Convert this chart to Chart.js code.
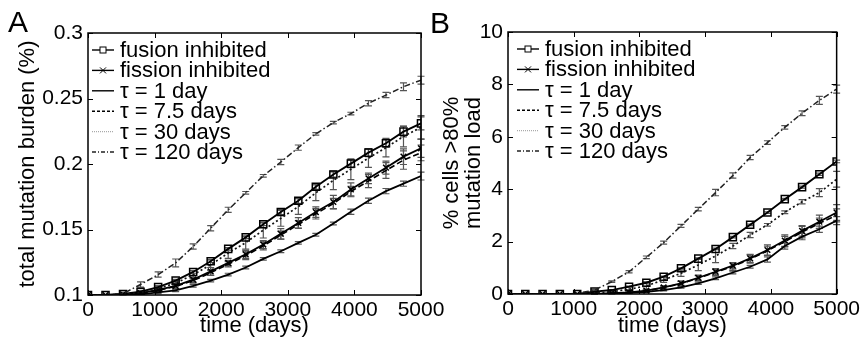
<!DOCTYPE html>
<html lang="en">
<head>
    <meta charset="UTF-8">
    <title>Mutation burden over time</title>
    <script src="https://cdn.jsdelivr.net/npm/chart.js"></script>
    <style>
        body {
            margin: 0;
            background: #fff;
            font-family: 'Liberation Sans', Arial, sans-serif;
        }
        .panel { position: absolute; top: 0; height: 344px; }
        #wrapA { left: 0; width: 452px; }
        #wrapB { left: 428px; width: 435px; }
        .letter {
            position: absolute;
            font-size: 30px;
            line-height: 1;
            color: #000;
        }
    </style>
</head>
<body>
    <div class="panel" id="wrapA"><canvas id="chartA" width="452" height="344"></canvas></div>
    <div class="panel" id="wrapB"><canvas id="chartB" width="435" height="344"></canvas></div>
    <div class="letter" style="left:8px;top:7px">A</div>
    <div class="letter" style="left:430px;top:8px">B</div>

    <script>
        // sample times (days)
        const days = [0, 263, 526, 789, 1053, 1316, 1579, 1842, 2105, 2368, 2632, 2895, 3158, 3421, 3684, 3947, 4211, 4474, 4737, 5000];

        // panel A: total mutation burden (%)
        const burdenFusion  = [0.1, 0.1, 0.1008, 0.1025, 0.106, 0.111, 0.1176, 0.1258, 0.1352, 0.144, 0.154, 0.1633, 0.172, 0.1827, 0.192, 0.2003, 0.2087, 0.2158, 0.2247, 0.231];
        const burdenFission = [0.1, 0.1, 0.1005, 0.1015, 0.104, 0.107, 0.1117, 0.118, 0.1245, 0.131, 0.1385, 0.1467, 0.155, 0.1633, 0.171, 0.1806, 0.189, 0.1972, 0.2056, 0.212];
        const burdenTau1    = [0.1, 0.1, 0.1, 0.1005, 0.102, 0.1036, 0.107, 0.111, 0.1156, 0.121, 0.1276, 0.1334, 0.1398, 0.146, 0.1546, 0.1635, 0.172, 0.1793, 0.185, 0.1908];
        const burdenTau7    = [0.1, 0.1, 0.1005, 0.1015, 0.1035, 0.1065, 0.111, 0.117, 0.1235, 0.13, 0.1375, 0.1457, 0.1538, 0.162, 0.1698, 0.179, 0.187, 0.195, 0.203, 0.2085];
        const burdenTau30   = [0.1, 0.1, 0.1005, 0.102, 0.105, 0.109, 0.1155, 0.123, 0.132, 0.14, 0.1495, 0.1585, 0.1675, 0.178, 0.1875, 0.196, 0.2045, 0.2125, 0.221, 0.228];
        const burdenTau120  = [0.1, 0.1, 0.101, 0.108, 0.1156, 0.1245, 0.137, 0.151, 0.165, 0.178, 0.191, 0.2015, 0.2125, 0.223, 0.2316, 0.2385, 0.2464, 0.2526, 0.259, 0.264];

        const errBurdenFusion  = [0, 0, 0, 0.001, 0.001, 0.001, 0.001, 0.001, 0.001, 0.001, 0.001, 0.002, 0.002, 0.002, 0.002, 0.003, 0.003, 0.003, 0.004, 0.005];
        const errBurdenFission = [0, 0, 0, 0.001, 0.001, 0.002, 0.002, 0.003, 0.002, 0.003, 0.003, 0.004, 0.004, 0.004, 0.005, 0.005, 0.004, 0.005, 0.006, 0.007];
        const errBurdenTau1    = [0, 0, 0, 0, 0.001, 0.001, 0.001, 0.001, 0.001, 0.001, 0.001, 0.001, 0.001, 0.001, 0.001, 0.002, 0.002, 0.002, 0.002, 0.003];
        const errBurdenTau7    = [0, 0, 0, 0.001, 0.001, 0.002, 0.002, 0.002, 0.002, 0.003, 0.003, 0.003, 0.003, 0.004, 0.004, 0.004, 0.005, 0.006, 0.007, 0.006];
        const errBurdenTau30   = [0, 0, 0, 0.001, 0.002, 0.002, 0.003, 0.004, 0.004, 0.005, 0.006, 0.006, 0.006, 0.006, 0.007, 0.008, 0.007, 0.007, 0.008, 0.009];
        const errBurdenTau120  = [0, 0, 0.001, 0.002, 0.002, 0.003, 0.002, 0.002, 0.002, 0.001, 0.001, 0.002, 0.002, 0.001, 0.001, 0.001, 0.002, 0.002, 0.003, 0.003];

        // panel B: % cells with >80% mutation load
        const loadFusion  = [0, 0, 0, 0, 0, 0.09, 0.15, 0.28, 0.43, 0.66, 0.98, 1.35, 1.72, 2.17, 2.64, 3.11, 3.62, 4.08, 4.57, 5.06];
        const loadFission = [0, 0, 0, 0, 0, 0, 0.03, 0.06, 0.13, 0.25, 0.41, 0.62, 0.85, 1.08, 1.36, 1.68, 2.04, 2.41, 2.76, 3.11];
        const loadTau1    = [0, 0, 0, 0, 0, 0, 0, 0.04, 0.08, 0.15, 0.25, 0.41, 0.6, 0.82, 1.04, 1.32, 1.83, 2.19, 2.47, 2.8];
        const loadTau7    = [0, 0, 0, 0, 0, 0, 0.02, 0.05, 0.12, 0.24, 0.4, 0.6, 0.83, 1.05, 1.33, 1.65, 2.0, 2.36, 2.7, 3.0];
        const loadTau30   = [0, 0, 0, 0, 0, 0.03, 0.09, 0.18, 0.31, 0.54, 0.79, 1.11, 1.45, 1.83, 2.25, 2.64, 3.12, 3.52, 3.87, 4.38];
        const loadTau120  = [0, 0, 0, 0, 0.02, 0.15, 0.47, 0.85, 1.4, 1.96, 2.6, 3.24, 3.87, 4.52, 5.21, 5.78, 6.36, 6.9, 7.39, 7.82];

        const errLoadFusion  = [0, 0, 0, 0, 0, 0.01, 0.01, 0.02, 0.02, 0.02, 0.02, 0.03, 0.03, 0.03, 0.03, 0.03, 0.03, 0.04, 0.04, 0.05];
        const errLoadFission = [0, 0, 0, 0, 0, 0.01, 0.02, 0.03, 0.05, 0.06, 0.08, 0.1, 0.12, 0.12, 0.15, 0.2, 0.22, 0.2, 0.25, 0.3];
        const errLoadTau1    = [0, 0, 0, 0, 0, 0, 0, 0.01, 0.02, 0.03, 0.03, 0.04, 0.05, 0.05, 0.05, 0.1, 0.12, 0.12, 0.12, 0.15];
        const errLoadTau7    = [0, 0, 0, 0, 0, 0.01, 0.02, 0.03, 0.05, 0.06, 0.08, 0.1, 0.12, 0.15, 0.15, 0.18, 0.2, 0.22, 0.2, 0.25];
        const errLoadTau30   = [0, 0, 0, 0, 0, 0.02, 0.05, 0.1, 0.15, 0.1, 0.12, 0.22, 0.25, 0.1, 0.1, 0.05, 0.05, 0.08, 0.15, 0.3];
        const errLoadTau120  = [0, 0, 0, 0, 0, 0.02, 0.03, 0.04, 0.05, 0.06, 0.06, 0.07, 0.12, 0.1, 0.08, 0.07, 0.07, 0.09, 0.15, 0.15];

        const seriesLabels = ['fusion inhibited', 'fission inhibited', 'τ = 1 day', 'τ = 7.5 days', 'τ = 30 days', 'τ = 120 days'];

        // line look per series (plot style, legend style)
        const styles = [
            { dash: [], color: '#000', width: 1.9, point: 'rect', radius: 5, legendDash: [], legendColor: '#000' },
            { dash: [], color: '#000', width: 1.8, point: 'crossRot', radius: 4, legendDash: [], legendColor: '#000' },
            { dash: [], color: '#000', width: 1.8, point: false, radius: 0, legendDash: [], legendColor: '#000' },
            { dash: [6, 3], color: '#000', width: 1.6, point: false, radius: 0, legendDash: [3, 2], legendColor: '#000' },
            { dash: [2, 2.5], color: '#111', width: 1.7, point: false, radius: 0, legendDash: [1, 1], legendColor: '#aaa' },
            { dash: [6, 2.5, 1.5, 2.5], color: '#222', width: 1.5, point: false, radius: 0, legendDash: [4, 2, 1, 2], legendColor: '#222' }
        ];

        function makeDatasets(values, errors) {
            return values.map((vals, i) => ({
                label: seriesLabels[i],
                data: vals.map((v, k) => ({ x: days[k], y: v })),
                errors: errors[i],
                borderColor: styles[i].color,
                borderWidth: styles[i].width,
                borderDash: styles[i].dash,
                pointStyle: styles[i].point,
                pointRadius: styles[i].radius,
                pointBorderColor: '#000',
                pointBackgroundColor: 'rgba(0,0,0,0)',
                pointBorderWidth: 1.5,
                tension: 0,
                fill: false,
                legendDash: styles[i].legendDash,
                legendColor: styles[i].legendColor
            })).reverse();
        }

        // vertical error bars, drawn through the scales
        const errorBars = {
            id: 'errorBars',
            beforeDatasetsDraw(chart) {
                const { ctx, scales: { x, y } } = chart;
                ctx.save();
                ctx.strokeStyle = '#555';
                ctx.lineWidth = 1.2;
                chart.data.datasets.forEach(ds => {
                    ds.data.forEach((p, k) => {
                        const e = ds.errors[k];
                        if (!e) return;
                        const px = x.getPixelForValue(p.x);
                        const top = y.getPixelForValue(p.y + e);
                        const bot = y.getPixelForValue(p.y - e);
                        ctx.beginPath();
                        ctx.moveTo(px, top); ctx.lineTo(px, bot);
                        ctx.moveTo(px - 3.5, top); ctx.lineTo(px + 3.5, top);
                        ctx.moveTo(px - 3.5, bot); ctx.lineTo(px + 3.5, bot);
                        ctx.stroke();
                    });
                });
                ctx.restore();
            }
        };

        // boxed axes with inward ticks on all four sides
        const boxAxes = {
            id: 'boxAxes',
            afterDraw(chart) {
                const { ctx, chartArea: a, scales: { x, y } } = chart;
                ctx.save();
                ctx.strokeStyle = '#000';
                ctx.lineWidth = 1.5;
                ctx.strokeRect(a.left, a.top, a.right - a.left, a.bottom - a.top);
                ctx.lineWidth = 1;
                ctx.beginPath();
                x.ticks.forEach(t => {
                    const px = Math.round(x.getPixelForValue(t.value)) + 0.5;
                    ctx.moveTo(px, a.bottom); ctx.lineTo(px, a.bottom - 5);
                    ctx.moveTo(px, a.top); ctx.lineTo(px, a.top + 5);
                });
                y.ticks.forEach(t => {
                    const py = Math.round(y.getPixelForValue(t.value)) + 0.5;
                    ctx.moveTo(a.left, py); ctx.lineTo(a.left + 5, py);
                    ctx.moveTo(a.right, py); ctx.lineTo(a.right - 5, py);
                });
                ctx.stroke();
                ctx.restore();
            }
        };

        // legend placed inside the plot, top-left
        const insetLegend = {
            id: 'insetLegend',
            afterDraw(chart) {
                const opts = chart.options.plugins.insetLegend;
                const { ctx } = chart;
                const items = chart.data.datasets.slice().reverse();
                ctx.save();
                ctx.font = '22px "Liberation Sans", Arial, sans-serif';
                ctx.textBaseline = 'middle';
                ctx.fillStyle = '#000';
                items.forEach((ds, i) => {
                    const yy = opts.y + i * opts.dy;
                    ctx.strokeStyle = ds.legendColor;
                    ctx.lineWidth = 1.4;
                    ctx.setLineDash(ds.legendDash);
                    ctx.beginPath();
                    ctx.moveTo(opts.x, yy); ctx.lineTo(opts.x + 22, yy);
                    ctx.stroke();
                    ctx.setLineDash([]);
                    const mx = opts.x + 11;
                    ctx.strokeStyle = '#000';
                    ctx.lineWidth = 1;
                    if (ds.pointStyle === 'rect') {
                        ctx.fillStyle = '#fff';
                        ctx.fillRect(mx - 3, yy - 3, 6, 6);
                        ctx.strokeRect(mx - 3, yy - 3, 6, 6);
                        ctx.fillStyle = '#000';
                    } else if (ds.pointStyle === 'crossRot') {
                        ctx.beginPath();
                        ctx.moveTo(mx - 3, yy - 3); ctx.lineTo(mx + 3, yy + 3);
                        ctx.moveTo(mx - 3, yy + 3); ctx.lineTo(mx + 3, yy - 3);
                        ctx.stroke();
                    }
                    ctx.fillText(ds.label, opts.x + 28, yy + 1);
                });
                ctx.restore();
            }
        };

        const tickFont = { family: "'Liberation Sans', Arial, sans-serif", size: 21 };
        const titleFont = { family: "'Liberation Sans', Arial, sans-serif", size: 22, lineHeight: 1.0 };

        function makeChart(id, datasets, cfg) {
            return new Chart(document.getElementById(id), {
                type: 'line',
                data: { datasets },
                options: {
                    responsive: false,
                    animation: false,
                    layout: { padding: { top: cfg.top, right: cfg.right, left: 0, bottom: 0 } },
                    plugins: {
                        legend: { display: false },
                        tooltip: { enabled: false },
                        insetLegend: cfg.legend
                    },
                    scales: {
                        x: {
                            type: 'linear',
                            min: 0, max: 5000,
                            grid: { display: false, drawTicks: false },
                            border: { display: false },
                            ticks: { stepSize: 1000, color: '#000', font: tickFont, padding: 3, maxRotation: 0,
                                     callback: v => String(v) },
                            title: { display: true, text: 'time (days)', color: '#000', font: titleFont, padding: { top: 0, bottom: 7 } },
                            afterFit: s => { s.height = cfg.xHeight; }
                        },
                        y: {
                            min: cfg.yMin, max: cfg.yMax,
                            grid: { display: false, drawTicks: false },
                            border: { display: false },
                            ticks: { stepSize: cfg.yStep, color: '#000', font: tickFont, padding: 5,
                                     callback: v => String(+v.toFixed(2)) },
                            title: { display: true, text: cfg.yTitle, color: '#000', font: titleFont, padding: { top: cfg.titlePad, bottom: 0 } },
                            afterFit: s => { s.width = cfg.yWidth; }
                        }
                    }
                },
                plugins: [errorBars, boxAxes, insetLegend]
            });
        }

        makeChart('chartA',
            makeDatasets([burdenFusion, burdenFission, burdenTau1, burdenTau7, burdenTau30, burdenTau120],
                         [errBurdenFusion, errBurdenFission, errBurdenTau1, errBurdenTau7, errBurdenTau30, errBurdenTau120]),
            { top: 33, right: 31, xHeight: 49, yWidth: 88, yMin: 0.1, yMax: 0.3, yStep: 0.05,
              yTitle: 'total mutation burden (%)', titlePad: 17, legend: { x: 92, y: 50, dy: 20.4 } });

        makeChart('chartB',
            makeDatasets([loadFusion, loadFission, loadTau1, loadTau7, loadTau30, loadTau120],
                         [errLoadFusion, errLoadFission, errLoadTau1, errLoadTau7, errLoadTau30, errLoadTau120]),
            { top: 32, right: 23, xHeight: 50, yWidth: 80, yMin: 0, yMax: 10, yStep: 2,
              yTitle: ['% cells >80%', 'mutation load'], titlePad: 13, legend: { x: 89, y: 49, dy: 20.4 } });
    </script>
</body>
</html>
